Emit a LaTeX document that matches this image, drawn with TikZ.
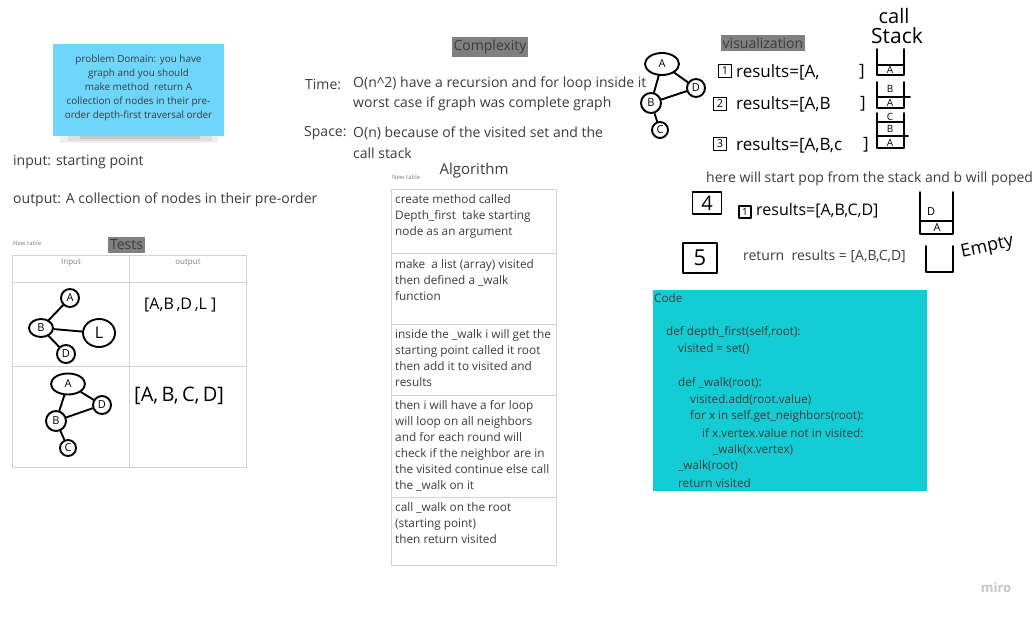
\documentclass[tikz,border=0pt]{standalone}
\usepackage{fontspec}
\setmainfont{Open Sans}
\usetikzlibrary{shapes.geometric}
\definecolor{sticky}{HTML}{6DD6FA}
\definecolor{codebg}{HTML}{14CCD4}
\definecolor{tagbg}{HTML}{808080}
\definecolor{txt}{HTML}{3C3C3C}
\definecolor{rulec}{HTML}{D2D2D2}
\newcommand{\hand}[0]{handln}
\newcommand{\stk}[4]{\draw[\hand] (#1,#2) --++ (0,#4) --++ (#3,0) --++ (0,-#4)}
\newcommand{\cell}[3]{\draw[\hand] (#1,#2) --++ (#3,0)}
\tikzset{
  handln/.style={line width=1.9pt, line cap=round, line join=round},
  tx/.style={font=\fontsize{#1}{#1}\selectfont},
  tx/.default=14,
  vx/.style={draw, handln, circle, text=black, font=\fontsize{11}{11}\selectfont},
  hw/.style={text=black, font=\fontsize{#1}{#1}\selectfont},
  hw/.default=17,
  tagbox/.style={fill=tagbg, inner xsep=2pt, inner ysep=3pt, font=\fontsize{14}{14}\selectfont, text=txt},
  stepbox/.style={draw, handln, text=black, minimum size=13pt, font=\fontsize{11}{11}\selectfont},
  row/.style={anchor=north west, align=left, font=\fontsize{11.8}{16}\selectfont},
  codeln/.style={anchor=west, font=\fontsize{11.7}{11.7}\selectfont},
  small/.style={font=\fontsize{6}{6}\selectfont, text=gray}
}
\begin{document}
\begin{tikzpicture}[x=1pt,y=-1pt, every node/.style={inner sep=0pt, text=txt}]
	\useasboundingbox[fill=white] (0,0) rectangle (1036,617);
	% sticky note
	\fill[black, opacity=.06] (60,134) rectangle (218,143);
	\fill[black, opacity=.08] (68,135) rectangle (212,141);
	\fill[black, opacity=.1] (80,136) rectangle (200,139);
	\fill[sticky] (53,44) rectangle (224,136);
	\node[align=center, font=\fontsize{9.9}{13.9}\selectfont] (note) at (138.5,88)
		{problem Domain: you have\\graph and you should\\make method\ \ return A\\collection of nodes in their pre-\\order depth-first traversal order};
	\node[tx, anchor=west] (inp) at (13,162) {input: starting point};
	\node[tx, anchor=west] (outp) at (13,200) {output: A collection of nodes in their pre-order};
	% complexity
	\node[tagbox] (cplx) at (490,47) {Complexity};
	\node[tx, anchor=west] (time) at (305,84) {Time:};
	\node[tx, anchor=west] (time1) at (353,84) {O(n\textasciicircum2) have a recursion and for loop inside it};
	\node[tx, anchor=west] (time2) at (353,104) {worst case if graph was complete graph};
	\node[tx, anchor=west] (space) at (304,133) {Space:};
	\node[tx, anchor=west] (space1) at (353,133) {O(n) because of the visited set and the};
	\node[tx, anchor=west] (space2) at (353,153) {call stack};
	% tests table
	\node[small, anchor=west] (newt1) at (13,243) {New table};
	\node[tagbox] (tests) at (126.5,245) {Tests};
	\draw[rulec] (12,255) rectangle (246,467);
	\draw[rulec] (129,255) -- (129,467);
	\draw[rulec] (12,282) -- (246,282);
	\draw[rulec] (12,366) -- (246,366);
	\node[font=\fontsize{8}{8}\selectfont, text=gray] (hin) at (71,263) {Input};
	\node[font=\fontsize{8}{8}\selectfont, text=gray] (hout) at (188,263) {output};
	\node[vx, minimum size=18pt] (aA) at (70,298) {A};
	\node[vx, ellipse, minimum width=24pt, minimum height=18pt] (aB) at (41,328) {B};
	\node[vx, ellipse, minimum width=32pt, minimum height=28pt, font=\fontsize{16}{16}\selectfont] (aL) at (99,333) {L};
	\node[vx, minimum size=18pt] (aD) at (66,354) {D};
	\draw[\hand] (aB) -- (aA);
	\draw[\hand] (aB) -- (aL);
	\draw[\hand] (aB) -- (aD);
	\node[hw=16, anchor=west] (res1) at (144,305) {[A,B\,,D\,,L\ ]};
	\node[vx, ellipse, minimum width=34pt, minimum height=21pt] (bA) at (68,384) {A};
	\node[vx, minimum size=18pt] (bD) at (102,405) {D};
	\node[vx, minimum size=20pt] (bB) at (56,421) {B};
	\node[vx, minimum size=16pt] (bC) at (68,448) {C};
	\draw[\hand] (bA) -- (bB);
	\draw[\hand] (bA) -- (bD);
	\draw[\hand] (bB) -- (bD);
	\draw[\hand] (bB) -- (bC);
	\node[hw=20, anchor=west] (res2) at (134,396) {[A,\,B,\,C,\,D]};
	% algorithm table
	\node[small, anchor=west] (newt2) at (392,177) {New table};
	\node[tx=15] (algo) at (474,171) {Algorithm};
	\draw[rulec] (391,189) rectangle (556,565);
	\draw[rulec] (391,253) -- (556,253);
	\draw[rulec] (391,324) -- (556,324);
	\draw[rulec] (391,395) -- (556,395);
	\draw[rulec] (391,497) -- (556,497);
	\node[row] (r1) at (395,194.5) {create method called\\Depth\_first\ \ take starting\\node as an argument};
	\node[row] (r2) at (395,259.5) {make\ \ a list (array) visited\\then defined a \_walk\\function};
	\node[row] (r3) at (395,329.5) {inside the \_walk i will get the\\starting point called it root\\then add it to visited and\\results};
	\node[row] (r4) at (395,400.5) {then i will have a for loop\\will loop on all neighbors\\and for each round will\\check if the neighbor are in\\the visited continue else call\\the \_walk on it};
	\node[row] (r5) at (395,502.5) {call \_walk on the root\\(starting point)\\then return visited};
	% visualization
	\node[tagbox] (visu) at (763,43) {visualization};
	\node[vx, ellipse, minimum width=34pt, minimum height=22pt] (vA) at (662,64) {A};
	\node[vx, minimum size=18pt] (vD) at (696,88) {D};
	\node[vx, minimum size=20pt] (vB) at (651,103) {B};
	\node[vx, minimum size=16pt] (vC) at (660,130) {C};
	\draw[\hand] (vA) -- (vB);
	\draw[\hand] (vA) -- (vD);
	\draw[\hand] (vB) -- (vD);
	\draw[\hand] (vB) -- (vC);
	\node[hw=20] (call) at (894,16) {call};
	\node[hw=21] (stack) at (897,36) {Stack};
	\node[stepbox] (s1) at (725,71) {1};
	\node[hw, anchor=west] (v1) at (736,72) {results=[A,};
	\node[hw] (b1) at (862,72) {]};
	\stk{877}{49}{27}{26};
	\cell{877}{65}{27};
	\node[hw=10] (k1a) at (890,70) {A};
	\node[stepbox] (s2) at (720,104) {2};
	\node[hw, anchor=west] (v2) at (736,104) {results=[A,B};
	\node[hw] (b2) at (863,104) {]};
	\stk{877}{82}{27}{26};
	\cell{877}{97}{33};
	\node[hw=10] (k2b) at (890,89) {B};
	\node[hw=10] (k2a) at (890,103) {A};
	\node[stepbox] (s3) at (720,144) {3};
	\node[hw, anchor=west] (v3) at (736,145) {results=[A,B,c};
	\node[hw] (b3) at (866,145) {]};
	\stk{877}{113}{27}{35};
	\cell{877}{122}{27};
	\cell{877}{136}{31};
	\node[hw=10] (k3c) at (890,117) {C};
	\node[hw=10] (k3b) at (890,129) {B};
	\node[hw=10] (k3a) at (890,143) {A};
	% pop
	\node[tx, anchor=west] (pop) at (706,179) {here will start pop from the stack and b will poped};
	\node[stepbox, minimum width=29pt, minimum height=22pt, font=\fontsize{20}{20}\selectfont] (s4) at (707,203) {4};
	\node[stepbox, minimum size=12pt, font=\fontsize{10}{10}\selectfont] (s41) at (745,212) {1};
	\node[hw=16, anchor=west] (v4) at (756,211) {results=[A,B,C,D]};
	\stk{920}{192}{33}{42};
	\cell{920}{221}{33};
	\node[hw=11] (k4d) at (931,212) {D};
	\node[hw=11] (k4a) at (937,228) {A};
	\node[stepbox, minimum width=34pt, minimum height=30pt, font=\fontsize{22}{22}\selectfont] (s5) at (700,258) {5};
	\node[tx, anchor=west] (ret) at (743,256) {return\ \ results = [A,B,C,D]};
	\stk{926}{246}{27}{26};
	\node[hw=18, rotate=12, anchor=west] (empty) at (961,253) {Empty};
	% code
	\fill[codebg] (653,290) rectangle (927,491);
	\node[codeln] (c0) at (654,298) {Code};
	\node[codeln] (c1) at (666,332) {def depth\_first(self,root):};
	\node[codeln] (c2) at (678,349) {visited = set()};
	\node[codeln] (c3) at (678,383) {def \_walk(root):};
	\node[codeln] (c4) at (690,400) {visited.add(root.value)};
	\node[codeln] (c5) at (690,416) {for x in self.get\_neighbors(root):};
	\node[codeln] (c6) at (702,433) {if x.vertex.value not in visited:};
	\node[codeln] (c7) at (713,450) {\_walk(x.vertex)};
	\node[codeln] (c8) at (678,466) {\_walk(root)};
	\node[codeln] (c9) at (678,483) {return visited};
	\node[font=\bfseries\fontsize{13}{13}\selectfont, text=gray!45] (miro) at (996,588) {miro};
\end{tikzpicture}
\end{document}
